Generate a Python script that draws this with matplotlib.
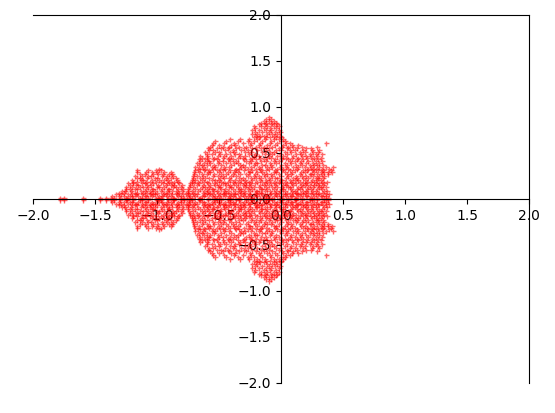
import numpy as np
import matplotlib
matplotlib.use("Agg")
import matplotlib.pyplot as plt

# -----------------------------
# Points, row by row (hundredths, upper half)
# -----------------------------
row_y = [1, 3, 5, 7, 9, 11, 13, 15, 17, 19, 21, 23, 25, 27, 29, 31, 33, 35, 37, 39, 41, 43, 45,
         47, 49, 51, 53, 55, 57, 59, 61, 63, 65, 67, 69, 71, 73, 75, 77, 79, 81, 83, 85, 87, 89]

row_x = [
    [-178, -175, -160, -146, -141, -137, -135, -130, -125, -124, -119, -114, -112, -107, -101, -99, -97, -91, -87, -86, -81, -78, -74, -72, -66, -65, -59, -54, -52, -48, -43, -41, -36, -34, -28, -24, -23, -17, -12, -10, -7, -1, 1, 6, 11, 12, 17, 23, 25, 29, 35, 38],
    [-136, -131, -127, -122, -120, -115, -110, -109, -104, -98, -96, -92, -89, -83, -81, -76, -73, -69, -64, -62, -56, -53, -50, -45, -41, -39, -33, -30, -27, -22, -19, -14, -12, -6, -3, 0, 4, 8, 9, 15, 20, 21, 27, 32, 33, 36],
    [-133, -129, -123, -118, -117, -112, -106, -103, -102, -95, -93, -88, -84, -79, -74, -70, -68, -61, -58, -55, -49, -47, -42, -38, -37, -31, -26, -25, -20, -15, -11, -9, -4, 2, 3, 7, 13, 14, 18, 24, 28, 30, 36, 39],
    [-131, -127, -120, -116, -111, -108, -105, -100, -94, -90, -85, -82, -77, -75, -71, -63, -60, -57, -51, -46, -44, -40, -35, -32, -29, -21, -18, -16, -8, -5, -2, 5, 10, 12, 16, 19, 22, 26, 31, 34],
    [-128, -126, -121, -113, -110, -106, -102, -97, -92, -88, -84, -80, -75, -72, -67, -62, -59, -54, -52, -46, -43, -37, -33, -30, -25, -20, -19, -13, -9, -4, -1, 3, 9, 11, 18, 20, 25, 28, 35, 37],
    [-125, -122, -118, -116, -109, -104, -103, -96, -91, -90, -83, -79, -75, -69, -65, -60, -56, -55, -48, -45, -39, -34, -32, -27, -23, -16, -15, -11, -6, 0, 2, 8, 13, 15, 21, 24, 29, 33],
    [-125, -120, -114, -111, -107, -100, -98, -94, -87, -85, -81, -74, -71, -64, -61, -58, -51, -49, -42, -40, -35, -29, -26, -22, -18, -12, -7, -3, 1, 6, 7, 14, 17, 22, 26, 31, 32, 36],
    [-122, -117, -115, -108, -105, -99, -93, -89, -86, -80, -73, -68, -63, -57, -53, -50, -44, -41, -36, -31, -28, -24, -17, -14, -10, -5, 2, 4, 10, 16, 19, 23, 27, 30, 34],
    [-123, -119, -112, -110, -103, -95, -92, -88, -82, -73, -70, -66, -59, -54, -47, -45, -38, -33, -30, -25, -21, -13, -8, -4, 0, 5, 9, 12, 18, 20, 28, 31, 35],
    [-119, -116, -109, -106, -101, -97, -90, -86, -83, -72, -67, -62, -60, -52, -48, -43, -39, -35, -28, -26, -19, -15, -11, -6, -2, 3, 8, 15, 21, 24, 27, 33, 37],
    [-120, -113, -111, -104, -98, -94, -91, -84, -72, -69, -64, -56, -53, -50, -41, -37, -32, -29, -23, -17, -12, -9, -1, 1, 7, 11, 14, 19, 25, 29, 32],
    [-116, -114, -108, -102, -100, -93, -89, -85, -71, -65, -61, -58, -49, -46, -42, -34, -31, -24, -20, -16, -10, -5, -3, 4, 10, 13, 18, 22, 28, 30, 34],
    [-118, -112, -107, -105, -96, -92, -87, -71, -68, -63, -55, -51, -47, -40, -36, -27, -22, -18, -13, -7, 0, 6, 12, 17, 20, 26, 31, 35],
    [-114, -110, -103, -99, -95, -90, -88, -70, -64, -60, -54, -48, -44, -39, -33, -28, -21, -14, -11, -8, -2, 5, 8, 15, 23, 24, 29, 33, 38],
    [-116, -109, -104, -100, -94, -89, -70, -66, -59, -57, -50, -43, -38, -35, -26, -25, -19, -15, -6, -4, 3, 9, 16, 19, 27, 32, 35, 38, 41],
    [-116, -107, -101, -97, -69, -62, -58, -52, -47, -41, -37, -30, -23, -16, -12, -5, 1, 7, 11, 18, 21, 25, 30, 34, 40],
    [-98, -67, -65, -61, -55, -49, -45, -36, -34, -27, -20, -17, -10, -3, 2, 6, 13, 22, 26, 28, 33, 39],
    [-69, -63, -56, -53, -46, -42, -32, -29, -24, -18, -11, -7, -1, 4, 10, 14, 19, 24, 31, 36, 42],
    [-66, -64, -60, -54, -48, -40, -33, -31, -22, -15, -13, -8, 0, 5, 12, 17, 23, 27, 29, 34],
    [-68, -62, -57, -51, -44, -38, -35, -26, -21, -19, -9, -4, 3, 8, 15, 20, 26, 31],
    [-65, -60, -58, -50, -47, -41, -36, -28, -24, -16, -12, -6, -2, 7, 11, 16, 22, 28, 33],
    [-66, -61, -55, -52, -43, -39, -30, -25, -20, -14, -5, 1, 6, 13, 18, 25, 30],
    [-64, -59, -54, -47, -42, -35, -31, -23, -17, -11, -8, 0, 4, 9, 14, 21, 27, 32],
    [-65, -60, -51, -46, -40, -33, -29, -22, -18, -10, -3, 2, 10, 17, 20, 24, 29],
    [-60, -56, -49, -44, -37, -34, -26, -21, -13, -7, -1, 5, 12, 16, 23, 28, 33],
    [-61, -53, -50, -41, -38, -29, -24, -15, -9, -6, 3, 8, 15, 19, 26, 30],
    [-58, -55, -45, -39, -32, -27, -19, -12, -4, 0, 7, 11, 18, 25, 31],
    [-59, -52, -48, -43, -36, -30, -23, -16, -10, -2, 5, 13, 20, 24],
    [-57, -47, -42, -34, -28, -20, -14, -7, 1, 6, 10, 17, 29],
    [-56, -50, -40, -37, -25, -18, -11, -5, 2, 9, 14],
    [-55, -46, -38, -31, -24, -17, -9, -3, 4, 7, 36],
    [-53, -44, -35, -27, -22, -15, -8, 0, 3],
    [-41, -33, -26, -19, -13, -6, -2, 2],
    [-22, -18, -12, -9, -4, 0],
    [-20, -17, -14, -6, -1],
    [-23, -19, -11, -7, -3],
    [-21, -15, -10, -5, -1],
    [-23, -18, -12, -8, -2],
    [-21, -14, -9, -4],
    [-22, -16, -11, -6, -2],
    [-18, -13, -8, -3],
    [-16, -12, -7, -4],
    [-14, -10, -6],
    [-12, -8],
    [-10],
]

x_ticks = [-2.0, -1.5, -1.0, -0.5, 0.0, 0.5, 1.0, 1.5, 2.0]

# -----------------------------
# Expand rows, the shape mirrors across the x axis
# -----------------------------
upper_x = np.array([x for row in row_x for x in row]) / 100
upper_y = np.array([y for y, row in zip(row_y, row_x) for x in row]) / 100

xs = np.concatenate([upper_x, upper_x])
ys = np.concatenate([upper_y, -upper_y])

# -----------------------------
# Plot
# -----------------------------
fig = plt.figure(figsize=(5.55, 4.13), dpi=100)
ax = fig.add_axes([33 / 555, 30 / 413, 496 / 555, 368 / 413])

ax.plot(xs, ys, "+", color="red", markersize=3.6, markeredgewidth=1.0, alpha=0.6)

ax.set_xlim(-2, 2)
ax.set_ylim(-2, 2)
ax.set_xticks(x_ticks)
ax.set_yticks(x_ticks)

ax.spines["left"].set_position("zero")
ax.spines["bottom"].set_position("zero")

fig.savefig("out.png", dpi=100)
